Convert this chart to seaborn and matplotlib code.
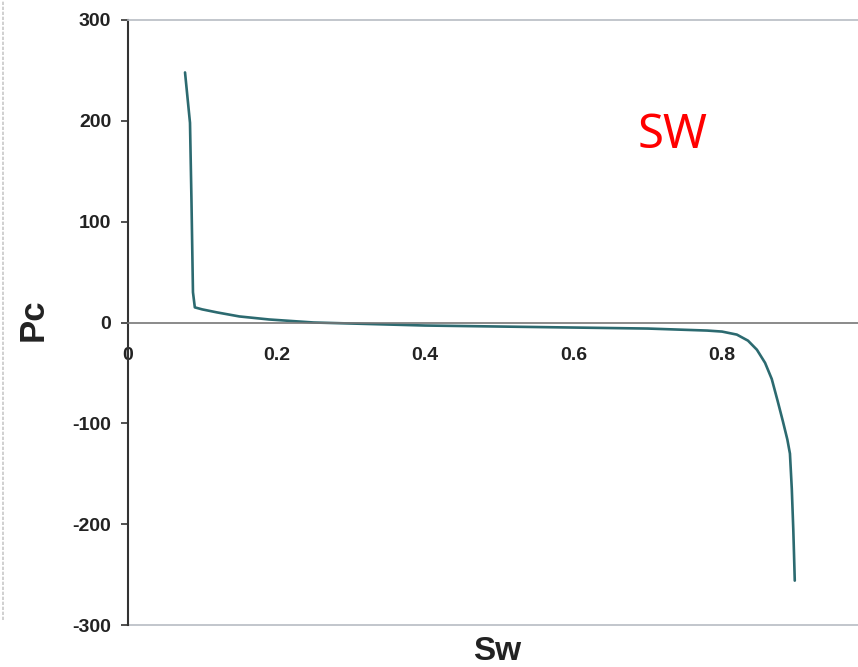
import matplotlib
matplotlib.use("Agg")
import matplotlib.pyplot as plt
from matplotlib.lines import Line2D
import seaborn as sns
import pandas as pd

# Capillary pressure curve: water saturation vs. Pc
sw = [0.0768, 0.0835, 0.0855, 0.0875, 0.090, 0.100, 0.120, 0.150, 0.190, 0.250,
      0.300, 0.400, 0.500, 0.600, 0.700, 0.780, 0.800, 0.820, 0.835, 0.847,
      0.858, 0.867, 0.875, 0.882, 0.888, 0.8915, 0.894, 0.896, 0.897, 0.898]
pc = [248, 198, 120, 30, 15, 13, 10, 6, 3, 0,
      -1, -3, -4, -5, -6, -8, -9, -12, -18, -27,
      -40, -56, -78, -98, -116, -130, -165, -205, -230, -256]

x_ticks = [0, 0.2, 0.4, 0.6, 0.8]
x_tick_labels = ["0", "0.2", "0.4", "0.6", "0.8"]
y_ticks = [-300, -200, -100, 0, 100, 200, 300]
y_tick_labels = ["-300", "-200", "-100", "0", "100", "200", "300"]

df = pd.DataFrame({"Sw": sw, "Pc": pc})

sns.set_theme(style="white")
plt.rcParams["font.family"] = ["Liberation Sans", "DejaVu Sans"]

fig = plt.figure(figsize=(8.58, 6.67), dpi=100)
W, H = 858, 667
left, right, top, bottom = 128, 870.5, 20, 625
ax = fig.add_axes([left / W, 1 - bottom / H, (right - left) / W, (bottom - top) / H])

sns.lineplot(data=df, x="Sw", y="Pc", sort=False, estimator=None,
             color="#2c6a70", linewidth=1.9, ax=ax)

ax.set_xlim(0, 1.0)
ax.set_ylim(-300, 300)

# x axis crosses at Pc = 0
ax.spines["bottom"].set_position(("data", 0))
ax.spines["bottom"].set_color("#777777")
ax.spines["bottom"].set_linewidth(1.2)
ax.spines["left"].set_color("#333333")
ax.spines["left"].set_linewidth(1.5)
ax.spines["top"].set_color("#b8bcc4")
ax.spines["top"].set_linewidth(1.2)
ax.spines["right"].set_visible(False)
# lower frame edge
ax.axhline(-300, color="#b8bcc4", linewidth=1.2, clip_on=False)

ax.set_xticks(x_ticks)
ax.set_xticklabels(x_tick_labels)
ax.set_yticks(y_ticks)
ax.set_yticklabels(y_tick_labels)
ax.tick_params(axis="x", direction="out", length=3, width=1, color="#555555",
               pad=15, labelsize=14, labelcolor="#222222")
ax.tick_params(axis="y", direction="out", length=5, width=1.2, color="#333333",
               pad=7, labelsize=14, labelcolor="#222222", left=True)
for lab in ax.get_xticklabels() + ax.get_yticklabels():
    lab.set_fontweight("bold")

ax.set_xlabel("")
ax.set_ylabel("")
ax.grid(False)

fig.text(33 / W, 1 - 320 / H, "Pc", rotation=90, ha="center", va="center",
         fontsize=25, fontweight="bold", color="#222222")
fig.text(497 / W, 1 - 651 / H, "Sw", ha="center", va="center",
         fontsize=24, fontweight="bold", color="#222222")
fig.text(673 / W, 1 - 136 / H, "SW", ha="center", va="center",
         fontsize=34, color="red", family=["Noto Sans", "DejaVu Sans"])

# edge of the neighbouring panel on the left
fig.add_artist(Line2D([3 / W, 3 / W], [1 - 620 / H, 1.0], color="#c8c8c8",
                      linewidth=1.2, linestyle=(0, (2, 1))))

fig.savefig("out.png", dpi=100)
